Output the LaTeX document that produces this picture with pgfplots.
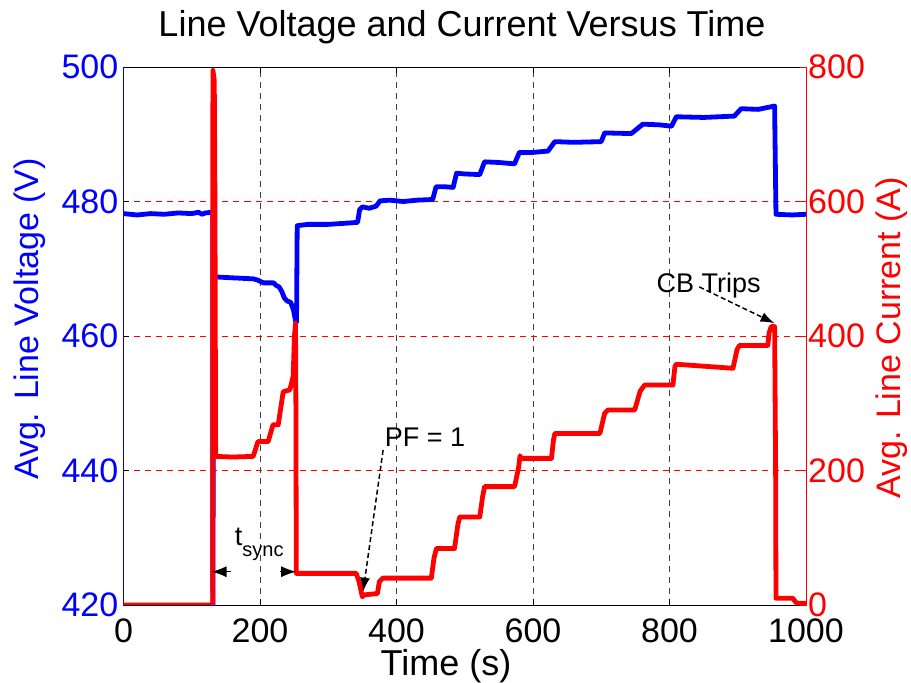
\documentclass[border=0pt]{standalone}
\usepackage{fontspec}
\setmainfont{Liberation Sans}
\usepackage{pgfplots}
\pgfplotsset{compat=1.18}
\usetikzlibrary{arrows.meta}
\begin{document}
\begin{tikzpicture}
\begin{axis}[
  name=ax1,
  at={(0pt,0pt)}, anchor=south west,
  width=682.5pt, height=538pt, scale only axis,
  xmin=0, xmax=1000, ymin=420, ymax=500,
  xtick={0,200,...,1000}, ytick={420,440,...,500},
  separate axis lines,
  x axis line style={black, line width=1pt},
  y axis line style={blue, line width=1pt},
  xmajorgrids, ymajorgrids,
  x grid style={black!75, dash pattern=on 6pt off 5pt, line width=0.9pt},
  y grid style={red, dash pattern=on 6pt off 5pt, line width=0.9pt},
  tick align=inside, major tick length=6pt,
  tick style={black, line width=0.8pt},
  /pgf/number format/assume math mode=true,
  /pgf/number format/1000 sep={},
  tick label style={font=\fontsize{34}{34}\selectfont},
  xticklabel style={anchor=base, yshift=-37pt, black},
  yticklabel style={blue, anchor=east, inner sep=0pt, xshift=-5pt},
  ytick pos=left,
]
\addplot[blue, line width=4.8pt, line join=round] coordinates {
(0,478.2)(20,478.0)(40,478.2)(60,478.1)(80,478.3)(100,478.2)(110,478.4)(115,478.1)(120,478.3)(130,478.4)(130.8,478.3)(131,419)(132,468.8)(150,468.7)(170,468.6)(190,468.5)(197,468.3)(205,467.9)(220,467.9)(224,467.5)(228,467.3)(232,466.6)(236,465.6)(240,465.2)(245,465.0)(249,463.9)(252,462.3)(253.5,462)(254.5,476.4)(270,476.6)(300,476.6)(330,476.8)(343,476.9)(346,478.8)(350,479.2)(360,479.0)(370,479.3)(376,480.1)(390,480.2)(410,480.0)(430,480.2)(453,480.3)(458,482.2)(470,482.2)(483,482.1)(488,484.2)(500,484.1)(522,484.0)(529,485.9)(550,485.8)(573,485.6)(580,487.3)(600,487.3)(622,487.5)(632,488.9)(660,488.8)(700,488.9)(705,490.2)(744,490.1)(761,491.5)(785,491.4)(803,491.2)(810,492.6)(850,492.5)(895,492.7)(905,493.8)(930,493.7)(954,494.2)(956,478.1)(980,478.0)(1000,478.1)
};
\end{axis}
\begin{axis}[
  name=ax2,
  at={(0pt,0pt)}, anchor=south west,
  width=682.5pt, height=538pt, scale only axis,
  xmin=0, xmax=1000, ymin=0, ymax=800,
  ytick={0,200,...,800},
  axis x line=none, axis y line*=right,
  y axis line style={red, line width=1pt},
  tick align=inside, major tick length=6pt,
  tick style={red, line width=0.8pt},
  /pgf/number format/assume math mode=true,
  tick label style={font=\fontsize{34}{34}\selectfont},
  yticklabel style={red, anchor=west, inner sep=0pt, xshift=2pt},
]
\addplot[red, line width=4.8pt, line join=round] coordinates {
(0,0)(130,0)(130.8,0)(131,795)(133,780)(134,600)(135,221)(160,220)(190,221)(197,243)(212,243)(219,268)(226.7,268)(234,317)(243.8,320)(248.6,340)(250.5,400)(252,419)(252.6,300)(253.2,47)(300,47)(341,47)(345,35)(350,12)(352,15)(372,17)(375,35)(380,40)(420,40)(451,40)(455,70)(458.5,84)(485,84)(490,120)(492.7,131)(522,131)(526,160)(529,176)(573,176)(579,205)(581,222)(583,218)(627,218)(630,245)(632,255)(698,255)(705,285)(710,290)(749,290)(757,318)(763.5,327)(805,327)(808,355)(810,358)(893,352)(899,380)(902.6,386)(944,386)(946,405)(949,414)(954,414)(955.5,200)(956,10)(980.7,10)(985,4)(988,2.5)(1000,2.5)
};
\node[anchor=base west, inner sep=0pt, font=\fontsize{27}{27}\selectfont] at (axis cs:163,89) {t\raisebox{-11pt}{\fontsize{20}{20}\selectfont sync}};
\draw[-{Latex[length=15pt,width=11pt]}, line width=1.2pt] (axis cs:157.5,49.5) -- (axis cs:129,49.5);
\draw[-{Latex[length=15pt,width=11pt]}, line width=1.2pt] (axis cs:229,49.5) -- (axis cs:253,49.5);
\node[anchor=base west, inner sep=0pt, font=\fontsize{27}{27}\selectfont] at (axis cs:382.8,235) {PF = 1};
\draw[-{Latex[length=14pt,width=10pt]}, line width=1.5pt, dash pattern=on 5pt off 3pt] (axis cs:380.4,230.5) -- (axis cs:351,19.8);
\node[anchor=base west, inner sep=0pt, font=\fontsize{27}{27}\selectfont] at (axis cs:781,464) {CB Trips};
\draw[-{Latex[length=14pt,width=10pt]}, line width=1.5pt, dash pattern=on 5pt off 3pt] (axis cs:843.6,473) -- (axis cs:953.9,419);
\end{axis}
\node[anchor=base] at (338.5pt,568pt) {\fontsize{36}{36}\selectfont Line Voltage and Current Versus Time};
\node[anchor=base] at (322.5pt,-70pt) {\fontsize{36}{36}\selectfont Time (s)};
\node[rotate=90, blue] at (-93.5pt,286pt) {\fontsize{34}{34}\selectfont Avg. Line Voltage (V)};
\node[rotate=90, red] at (768.5pt,267pt) {\fontsize{34}{34}\selectfont Avg. Line Current (A)};
\pgfresetboundingbox
\path[use as bounding box] (-123.5pt,-78pt) rectangle (787.5pt,605pt);
\end{tikzpicture}
\end{document}
